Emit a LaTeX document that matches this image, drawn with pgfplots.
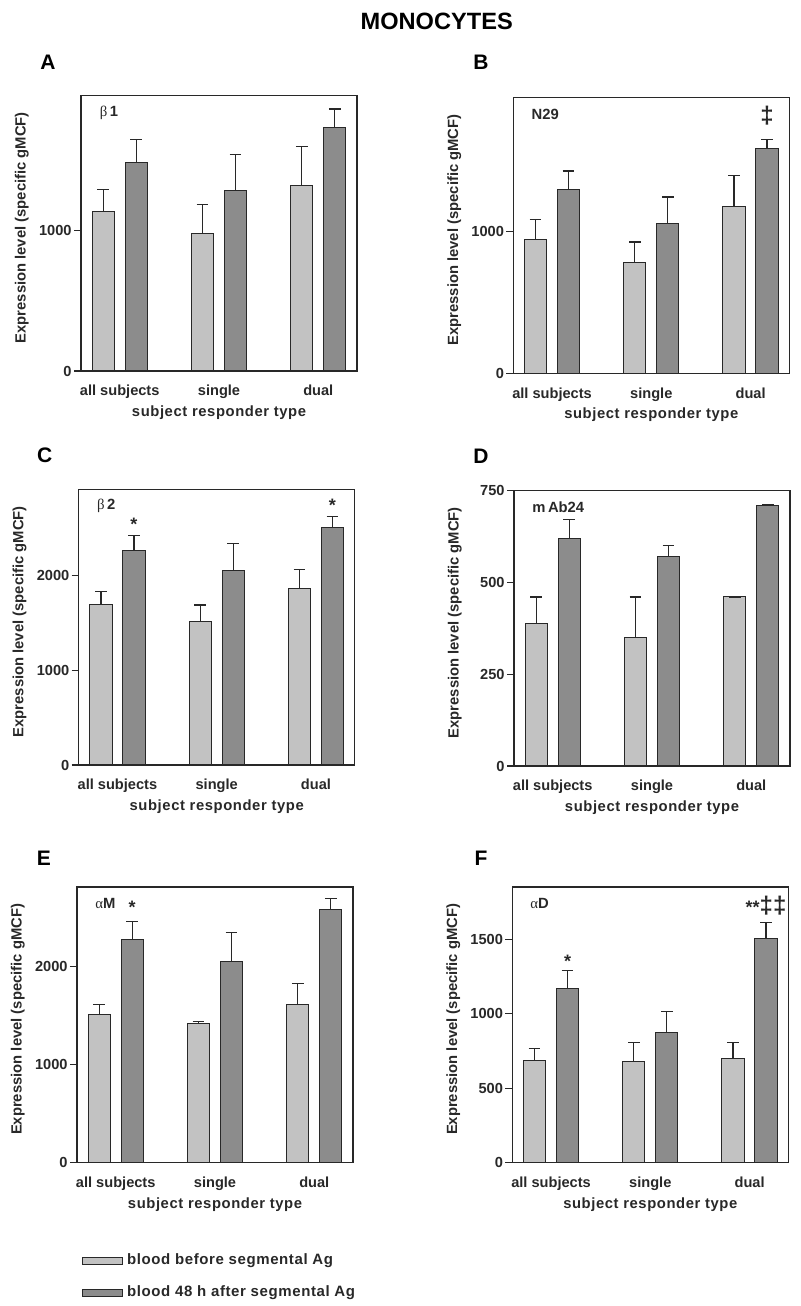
\documentclass[border=0pt]{standalone}
\usepackage{pgfplots}
\pgfplotsset{compat=1.18}
\usepackage{fontspec}
\setmainfont{Liberation Sans}
\newfontfamily\spaced[LetterSpace=4]{Liberation Sans}
\newfontfamily\grk{Liberation Serif}
\definecolor{lightbar}{RGB}{194,194,194}
\definecolor{darkbar}{RGB}{140,140,140}
\definecolor{edge}{RGB}{40,40,40}

\pgfplotsset{
  panel/.style={
    width=138pt, height=137.8pt, scale only axis,
    anchor=south west,
    xmin=-0.39, xmax=2.39, ymin=0,
    ybar=5.4pt, bar width=11.1pt,
    xtick={0,1,2}, xticklabels={all subjects,single,dual},
    xtick style={draw=none},
    ytick pos=left, tick align=outside, major tick length=3.5pt,
    ytick style={edge, line width=0.6pt},
    axis line style={edge, line width=0.6pt},
    /pgf/number format/assume math mode=true,
    /pgf/number format/1000 sep={},
    ticklabel style={font=\bfseries\fontsize{7.3}{8}\selectfont, text=edge},
    xticklabel style={anchor=base, yshift=-9pt, inner sep=0pt},
    yticklabel style={anchor=east, inner sep=0pt, xshift=-1pt},
    xlabel={subject responder type},
    ylabel={Expression level (specific gMCF)},
    xlabel style={at={(axis description cs:0.5,-0.151)}, anchor=center, text=edge,
      font=\spaced\bfseries\fontsize{7.4}{9}\selectfont},
    ylabel style={at={(axis description cs:-0.214,0.52)}, anchor=center, text=edge,
      font=\bfseries\fontsize{7.4}{9}\selectfont},
    error bars/y dir=plus, error bars/y explicit,
    error bars/error bar style={edge, line width=0.6pt},
    error bars/error mark options={rotate=90, edge, line width=0.6pt, mark size=2.9pt},
    clip=false,
  },
  light/.style={fill=lightbar, draw=edge, line width=0.5pt},
  dark/.style={fill=darkbar, draw=edge, line width=0.5pt},
}
\newcommand{\inlab}{\bfseries\fontsize{7.4}{9}\selectfont\color{edge}}
\newcommand{\starf}{\bfseries\fontsize{9}{10}\selectfont\color{edge}}

\begin{document}
\begin{tikzpicture}
\useasboundingbox (0pt,0pt) rectangle (400pt,653pt);

\node[font=\bfseries\fontsize{11.8}{14}\selectfont] at (218.35pt,642.35pt) {MONOCYTES};
\node[font=\bfseries\fontsize{10.5}{12}\selectfont] at (24pt,621.75pt) {A};
\node[font=\bfseries\fontsize{10.5}{12}\selectfont] at (240.5pt,621.75pt) {B};
\node[font=\bfseries\fontsize{10.5}{12}\selectfont] at (22.35pt,425.25pt) {C};
\node[font=\bfseries\fontsize{10.5}{12}\selectfont] at (240.5pt,424.85pt) {D};
\node[font=\bfseries\fontsize{10.5}{12}\selectfont] at (22pt,224pt) {E};
\node[font=\bfseries\fontsize{10.5}{12}\selectfont] at (240.5pt,224pt) {F};

% A
\begin{axis}[panel, at={(40.5pt,467.5pt)}, ymax=1957, ytick={0,1000}]
\addplot[light] coordinates {(0,1130) +- (0,161) (1,979) +- (0,203) (2,1320) +- (0,272)};
\addplot[dark] coordinates {(0,1480) +- (0,162) (1,1279) +- (0,261) (2,1732) +- (0,128)};
\node[anchor=west, font=\inlab] at (axis description cs:0.043,0.937) {{\grk\mdseries β}\,1};
\end{axis}

% B
\begin{axis}[panel, at={(256.65pt,466.35pt)}, ymax=1949, ytick={0,1000}]
\addplot[light] coordinates {(0,948) +- (0,142) (1,781) +- (0,148) (2,1179) +- (0,217)};
\addplot[dark] coordinates {(0,1299) +- (0,132) (1,1059) +- (0,188) (2,1589) +- (0,66)};
\node[anchor=west, font=\inlab] at (axis description cs:0.041,0.938) {N29};
\node[font=\bfseries\fontsize{12}{13}\selectfont\color{edge}, xshift=8.25pt] at (axis cs:2,1824) {‡};
\end{axis}

% C
\begin{axis}[panel, at={(39.35pt,270.5pt)}, ymax=2913, ytick={0,1000,2000}]
\addplot[light] coordinates {(0,1694) +- (0,137) (1,1521) +- (0,169) (2,1863) +- (0,204)};
\addplot[dark] coordinates {(0,2264) +- (0,159) (1,2057) +- (0,281) (2,2507) +- (0,120)};
\node[anchor=west, font=\inlab] at (axis description cs:0.041,0.939) {{\grk\mdseries β}\,2};
\node[font=\starf, xshift=8.25pt, yshift=-1.6pt] at (axis cs:0,2581) {*};
\node[font=\starf, xshift=8.25pt, yshift=-1.6pt] at (axis cs:2,2782) {*};
\end{axis}

% D
\begin{axis}[panel, at={(257pt,270pt)}, ymax=750, ytick={0,250,500,750}]
\addplot[light] coordinates {(0,389) +- (0,71) (1,349) +- (0,111) (2,460) +- (0,0)};
\addplot[dark] coordinates {(0,620) +- (0,50) (1,570) +- (0,30) (2,710) +- (0,0)};
\node[anchor=west, font=\inlab] at (axis description cs:0.041,0.938) {m\,Ab24};
\end{axis}

% E
\begin{axis}[panel, at={(38.5pt,71.65pt)}, ymax=2807, ytick={0,1000,2000},
  legend style={draw=none, fill=none, at={(axis description cs:0.017,-0.315)}, anchor=north west,
    font=\spaced\bfseries\fontsize{7.5}{9}\selectfont, text=edge, row sep=5pt, inner sep=0pt,
    cells={anchor=west}},
  legend image code/.code={\draw[#1] (0pt,-1.75pt) rectangle (20pt,1.75pt);}]
\addplot[light] coordinates {(0,1509) +- (0,102) (1,1421) +- (0,17) (2,1611) +- (0,216)};
\addlegendentry{blood before segmental Ag}
\addplot[dark] coordinates {(0,2272) +- (0,183) (1,2051) +- (0,295) (2,2580) +- (0,112)};
\addlegendentry{blood 48 h after segmental Ag}
\node[anchor=west, font=\inlab] at (axis description cs:0.041,0.94) {{\grk\mdseries α}M};
\node[font=\starf, xshift=8.25pt, yshift=-1.6pt] at (axis cs:0,2638) {*};
\end{axis}

% F
\begin{axis}[panel, at={(256.15pt,71.65pt)}, ymax=1850, ytick={0,500,1000,1500}]
\addplot[light] coordinates {(0,686) +- (0,81) (1,678) +- (0,130) (2,700) +- (0,108)};
\addplot[dark] coordinates {(0,1169) +- (0,121) (1,871) +- (0,145) (2,1507) +- (0,104)};
\node[anchor=west, font=\inlab] at (axis description cs:0.04,0.94) {{\grk\mdseries α}D};
\node[font=\starf, xshift=8.25pt, yshift=-1.6pt] at (axis cs:0,1373) {*};
\node[font=\starf, xshift=8.25pt] at (axis cs:2,1723) {**\fontsize{12}{13}\selectfont‡‡};
\end{axis}
\end{tikzpicture}
\end{document}
